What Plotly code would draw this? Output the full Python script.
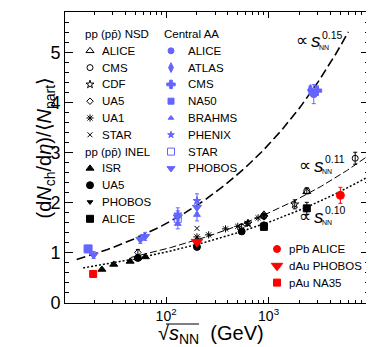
import numpy as np
import plotly.graph_objects as go

# ---------------- data ----------------
# pp (ppbar) NSD, open black markers
nsd_alice_x = [900, 2360]
nsd_alice_y = [1.77, 2.22]
nsd_cms_x = [900, 2360, 7000]
nsd_cms_y = [1.74, 2.24, 2.89]
nsd_cms_err = [0.04, 0.06, 0.12]
nsd_cdf_x = [630, 1800]
nsd_cdf_y = [1.59, 1.97]
nsd_cdf_err = [0.04, 0.09]
nsd_ua5_x = [53, 200, 546, 900]
nsd_ua5_y = [1.01, 1.25, 1.53, 1.72]
nsd_ua5_err = [0.06, 0.04, 0.04, 0.04]
nsd_ua1_x = [200, 260, 380, 500, 620, 790, 900]
nsd_ua1_y = [1.32, 1.36, 1.48, 1.53, 1.59, 1.70, 1.74]
nsd_star_x = [200]
nsd_star_y = [1.49]

# pp (ppbar) INEL, filled black markers
isr_x = [23.6, 30.8, 44.5, 52.6, 62.7]
isr_y = [0.67, 0.77, 0.83, 0.90, 0.92]
inel_ua5_x = [53, 200, 546, 900]
inel_ua5_y = [0.90, 1.12, 1.43, 1.55]
inel_ua5_err = [0.03, 0.04, 0.03, 0.03]
inel_phobos_x = [200]
inel_phobos_y = [1.16]
inel_alice_x = [900, 2360]
inel_alice_y = [1.52, 1.89]
inel_alice_err = [0.03, 0.12]

# central AA, blue markers
aa_alice_x = [2760]
aa_alice_y = [4.17]
aa_alice_err = [0.19]
aa_atlas_x = [2560]
aa_atlas_y = [4.25]
aa_atlas_err = [0.08]
aa_cms_x = [2960]
aa_cms_y = [4.24]
aa_cms_err = [0.08]
aa_na50_x = [17.3]
aa_na50_y = [1.08]
aa_na50_err = [0.07]
aa_brahms_x = [130, 200]
aa_brahms_y = [1.58, 1.76]
aa_brahms_err = [0.10, 0.12]
aa_phenix_x = [130, 200]
aa_phenix_y = [1.77, 2.04]
aa_phenix_err = [0.13, 0.14]
aa_star_x = [130]
aa_star_y = [1.68]
aa_star_err = [0.10]
aa_phobos_x = [19.6, 56, 62.4, 130, 200]
aa_phobos_y = [0.96, 1.27, 1.33, 1.72, 1.91]
aa_phobos_err = [0.07, 0.08, 0.08, 0.12, 0.11]

# p-A / d-A, red markers
ppb_alice_x = [5020]
ppb_alice_y = [2.15]
ppb_alice_err = [0.16]
dau_phobos_x = [200]
dau_phobos_y = [1.22]
pau_na35_x = [19.4]
pau_na35_y = [0.58]

# power-law fits  a * s^p  (s = sqrt(s)^2)
fit_aa = dict(a=0.398, p=0.15, xmin=13.4, xmax=6000)
fit_pp = dict(a=0.393, p=0.11, xmin=45, xmax=9000)
fit_pa = dict(a=0.405, p=0.10, xmin=15.5, xmax=9400)

BLUE = "#6464ff"
RED = "#ff0000"
BLK = "black"
FONT = "Liberation Sans"

# plot frame in pixels
L, R, T, B = 57, 361, 4, 295


def px(x):
    return (x - L) / (R - L)


def py(y):
    return (B - y) / (B - T)


fig = go.Figure()


def add_fit(f, dash, width):
    xs = np.logspace(np.log10(f["xmin"]), np.log10(f["xmax"]), 200)
    fig.add_trace(go.Scatter(x=xs, y=f["a"] * (xs ** 2) ** f["p"], mode="lines",
                             line=dict(color=BLK, dash=dash, width=width),
                             hoverinfo="skip"))


add_fit(fit_aa, "9px,4px", 1.6)
add_fit(fit_pp, "7px,3px", 1)
add_fit(fit_pa, "2px,2px", 1.5)


def add_pts(x, y, symbol, color, size, err=None, lw=1):
    fig.add_trace(go.Scatter(
        x=x, y=y, mode="markers",
        marker=dict(symbol=symbol, color=color, size=size,
                    line=dict(color=color, width=lw)),
        error_y=dict(type="data", array=err, color=color, thickness=1, width=2,
                     visible=err is not None)))


# pp NSD
add_pts(nsd_ua1_x, nsd_ua1_y, "asterisk-open", BLK, 6)
add_pts(nsd_star_x, nsd_star_y, "x-thin-open", BLK, 5)
add_pts(nsd_ua5_x, nsd_ua5_y, "diamond-open", BLK, 5, nsd_ua5_err)
add_pts(nsd_cdf_x, nsd_cdf_y, "star-open", BLK, 6, nsd_cdf_err)
add_pts(nsd_cms_x, nsd_cms_y, "circle-open", BLK, 6, nsd_cms_err)
add_pts(nsd_alice_x, nsd_alice_y, "triangle-up-open", BLK, 7)
# pp INEL
add_pts(isr_x, isr_y, "triangle-up", BLK, 7)
add_pts(inel_ua5_x, inel_ua5_y, "circle", BLK, 7, inel_ua5_err)
add_pts(inel_phobos_x, inel_phobos_y, "triangle-down", BLK, 5)
add_pts(inel_alice_x, inel_alice_y, "square", BLK, 7, inel_alice_err)
# central AA
add_pts(aa_na50_x, aa_na50_y, "square", BLUE, 8, aa_na50_err)
add_pts(aa_star_x, aa_star_y, "square-open", BLUE, 7, aa_star_err)
add_pts(aa_brahms_x, aa_brahms_y, "triangle-up", BLUE, 6, aa_brahms_err)
add_pts(aa_phenix_x, aa_phenix_y, "star", BLUE, 6, aa_phenix_err)
add_pts(aa_phobos_x, aa_phobos_y, "triangle-down", BLUE, 8, aa_phobos_err)
add_pts(aa_atlas_x, aa_atlas_y, "diamond-tall", BLUE, 8, aa_atlas_err)
add_pts(aa_cms_x, aa_cms_y, "cross", BLUE, 8, aa_cms_err)
add_pts(aa_alice_x, aa_alice_y, "circle", BLUE, 7, aa_alice_err)
# pA / dA
add_pts(pau_na35_x, pau_na35_y, "square", RED, 7)
add_pts(dau_phobos_x, dau_phobos_y, "triangle-down", RED, 10)
add_pts(ppb_alice_x, ppb_alice_y, "circle", RED, 8, ppb_alice_err)

# ---------------- hand-made legend (pixel coordinates on overlay axes) ----------------
legend_cols = [
    (75, 82, 92, [("pp (pp̄) NSD", None, None, 0),
                  ("ALICE", "triangle-up-open", BLK, 7), ("CMS", "circle-open", BLK, 6),
                  ("CDF", "star-open", BLK, 6), ("UA5", "diamond-open", BLK, 5),
                  ("UA1", "asterisk-open", BLK, 6), ("STAR", "x-thin-open", BLK, 5),
                  ("pp (pp̄) INEL", None, None, 0),
                  ("ISR", "triangle-up", BLK, 7), ("UA5", "circle", BLK, 7),
                  ("PHOBOS", "triangle-down", BLK, 5), ("ALICE", "square", BLK, 7)], 26),
    (154, 163, 178, [("Central AA", None, None, 0),
                     ("ALICE", "circle", BLUE, 6), ("ATLAS", "diamond-tall", BLUE, 7),
                     ("CMS", "cross", BLUE, 7), ("NA50", "square", BLUE, 6),
                     ("BRAHMS", "triangle-up", BLUE, 5), ("PHENIX", "star", BLUE, 5),
                     ("STAR", "square-open", BLUE, 7), ("PHOBOS", "triangle-down", BLUE, 7)], 26),
    (279, 269, 279, [("pPb ALICE", "circle", RED, 7), ("dAu PHOBOS", "triangle-down", RED, 10),
                     ("pAu NA35", "square", RED, 7)], 241),
]
ROW = 16.8
for hx, mx, tx, rows, y0 in legend_cols:
    for i, (lab, sym, col, sz) in enumerate(rows):
        yy = y0 + i * ROW
        if sym is None:
            fig.add_annotation(x=hx, y=yy, xref="x2", yref="y2", text=lab, showarrow=False,
                               xanchor="left", yanchor="middle",
                               font=dict(size=11.5, color=BLK, family=FONT))
            continue
        fig.add_trace(go.Scatter(x=[mx], y=[yy], xaxis="x2", yaxis="y2", mode="markers",
                                 marker=dict(symbol=sym, color=col, size=sz,
                                             line=dict(color=col, width=1)),
                                 cliponaxis=False, hoverinfo="skip"))
        fig.add_annotation(x=tx, y=yy, xref="x2", yref="y2", text=lab, showarrow=False,
                           xanchor="left", yanchor="middle",
                           font=dict(size=11.5, color=BLK, family=FONT))

# curve labels  ∝ s_NN^p   (pixel positions of each piece)
for (ax, ay, sup) in [(286, 33, "0.15"), (289, 157, "0.11"), (289, 208, "0.10")]:
    fig.add_annotation(x=px(ax), y=py(ay), xref="paper", yref="paper", showarrow=False,
                       text="∝", xanchor="left", yanchor="middle",
                       font=dict(size=17, color=BLK, family=FONT))
    fig.add_annotation(x=px(ax + 15), y=py(ay), xref="paper", yref="paper", showarrow=False,
                       text="<i>s</i>", xanchor="left", yanchor="middle",
                       font=dict(size=19, color=BLK, family=FONT))
    fig.add_annotation(x=px(ax + 26), y=py(ay - 6), xref="paper", yref="paper",
                       showarrow=False, text=sup, xanchor="left", yanchor="middle",
                       font=dict(size=10.5, color=BLK, family=FONT))
    fig.add_annotation(x=px(ax + 23), y=py(ay + 6), xref="paper", yref="paper",
                       showarrow=False, text="NN", xanchor="left", yanchor="middle",
                       font=dict(size=7, color=BLK, family=FONT))

# axis titles
fig.add_annotation(x=px(22), y=py(140), xref="paper", yref="paper", showarrow=False,
                   textangle=-90, text="(d<i>N</i><sub>ch</sub>/d<i>η</i>)/⟨<i>N</i><sub>part</sub>⟩",
                   font=dict(size=20, color=BLK, family=FONT))
fig.add_annotation(x=px(148), y=py(326), xref="paper", yref="paper", showarrow=False,
                   xanchor="left", yanchor="middle",
                   text="√<i>s</i><sub>NN</sub>  (GeV)",
                   font=dict(size=20, color=BLK, family=FONT))
fig.add_shape(type="line", xref="paper", yref="paper", x0=px(158), x1=px(191),
              y0=py(316), y1=py(316), line=dict(color=BLK, width=1))

minor_x = [m * 10 ** e for e in (1, 2, 3) for m in range(2, 10)]

fig.update_layout(
    template="none",
    width=374, height=347,
    margin=dict(l=L, r=374 - R, t=T, b=347 - B, autoexpand=False),
    paper_bgcolor="white", plot_bgcolor="white",
    showlegend=False,
    font=dict(family=FONT, color=BLK),
    xaxis=dict(type="log", range=[np.log10(10.3), np.log10(9550)], automargin=False,
               tickvals=[100, 1000], ticktext=["10<sup>2</sup>", "10<sup>3</sup>"],
               ticks="inside", ticklen=6, tickcolor=BLK,
               minor=dict(tickvals=minor_x, ticks="inside", ticklen=3, tickcolor=BLK),
               showline=True, linecolor=BLK, linewidth=1, mirror="ticks",
               showgrid=False, zeroline=False,
               tickfont=dict(size=14, family=FONT, color=BLK)),
    yaxis=dict(range=[0, 5.81], dtick=1, ticks="inside", ticklen=8, tickcolor=BLK,
               automargin=False,
               minor=dict(dtick=0.2, ticks="inside", ticklen=4, tickcolor=BLK),
               showline=True, linecolor=BLK, linewidth=1, mirror="ticks",
               showgrid=False, zeroline=False,
               tickfont=dict(size=18, family=FONT, color=BLK)),
    xaxis2=dict(range=[L, R], overlaying="x", visible=False, fixedrange=True,
                automargin=False),
    yaxis2=dict(range=[B, T], overlaying="y", visible=False, fixedrange=True,
                automargin=False),
)

fig.write_html("out.html")
